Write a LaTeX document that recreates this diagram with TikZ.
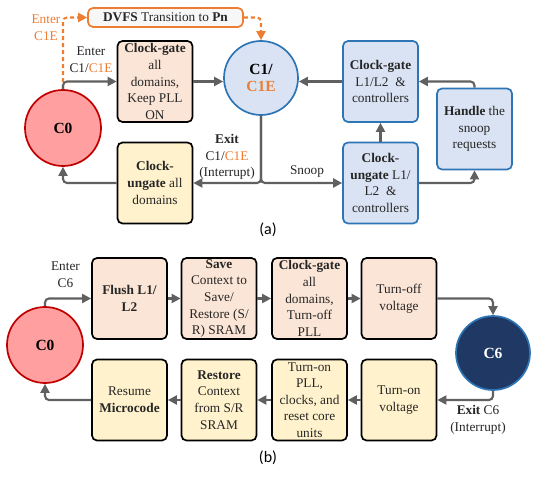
\documentclass[tikz,border=0pt]{standalone}
\usepackage{fontspec}
\setmainfont{Liberation Serif}
\newfontfamily\capfont{Carlito}
\usetikzlibrary{arrows.meta}
\definecolor{peach}{HTML}{FBE5D6}
\definecolor{cream}{HTML}{FFF2CC}
\definecolor{lblue}{HTML}{DAE3F3}
\definecolor{bblue}{HTML}{2E75B6}
\definecolor{oran}{HTML}{ED7D31}
\definecolor{arrgray}{HTML}{606060}
\definecolor{pinkred}{HTML}{FF9F9F}
\definecolor{dred}{HTML}{C00000}
\definecolor{navy}{HTML}{203864}
\definecolor{txt}{HTML}{262626}
\tikzset{
  box/.style={draw=black, line width=1.7pt, rounded corners=5pt, minimum width=75pt, minimum height=81pt, align=center, inner sep=1pt, font=\fontsize{13.3}{16.6}\selectfont, text=txt},
  pbox/.style={box, fill=peach},
  ybox/.style={box, fill=cream},
  bbox/.style={box, fill=lblue, draw=bblue},
  circ/.style={circle, line width=1.7pt, minimum size=75pt, inner sep=0pt, align=center, font=\fontsize{15.5}{17.5}\selectfont\bfseries},
  arr/.style={draw=arrgray, line width=2.1pt, rounded corners=4pt, -{Triangle[length=9pt,width=9pt]}},
  odash/.style={draw=oran, line width=2.1pt, dash pattern=on 4pt off 3pt, rounded corners=4pt, -{Triangle[length=9pt,width=9pt]}},
  lbl/.style={align=center, font=\fontsize{13.3}{16.6}\selectfont, text=txt, inner sep=0pt},
}
\begin{document}
\begin{tikzpicture}[x=1pt,y=-1pt]
\useasboundingbox (0,0) rectangle (538,478);
% ---------- (a) ----------
\node[circ, fill=pinkred, draw=dred, minimum size=76pt] (c0a) at (63,128) {C0};
\node[circ, fill=lblue, draw=bblue, minimum size=74pt] (c1) at (261,78) {C1/\\\textcolor{oran}{C1E}};
\node[pbox] (cg) at (155,81.5) {\textbf{Clock-gate}\\all\\domains,\\Keep PLL\\ON};
\node[ybox] (cua) at (155,183) {\textbf{Clock-}\\\textbf{ungate} all\\domains};
\node[bbox] (l12) at (380.5,81.5) {\textbf{Clock-gate}\\L1/L2 \ \&\\controllers};
\node[bbox] (hs) at (474.5,129) {\textbf{Handle} the\\snoop\\requests};
\node[bbox] (cul) at (380.5,183) {\textbf{Clock-}\\\textbf{ungate} L1/\\L2 \ \&\\controllers};
\node[draw=oran, line width=1.7pt, fill=black!3, rounded corners=5pt, minimum width=155pt, minimum height=19pt, inner sep=0pt, font=\fontsize{13.3}{15}\selectfont, text=txt] (dvfs) at (165.5,17.5) {\textbf{DVFS} Transition to \textbf{Pn}};

\draw[odash] (c0a.north) |- (dvfs.west);
\draw[odash] (dvfs.east) -| (c1.north);
\draw[arr] (c0a.north) |- (cg.west);
\draw[arr] (cg.east) -- (c1.west |- cg.east);
\draw[arr] (l12.west) -- (c1.east |- l12.west);
\draw[arr] (hs.north) |- (l12.east);
\draw[arr] (cul.north) -- (l12.south);
\draw[arr] (cul.east) -| (hs.south);
\draw[arr] (c1.south) |- (cua.east);
\draw[arr] (c1.south) |- (cul.west);
\draw[arr] (cua.west) -| (c0a.south);

\node[lbl, text=oran] (le1) at (46,28) {Enter\\C1E};
\node[lbl] (le2) at (91,60) {Enter\\C1/\textcolor{oran}{C1E}};
\node[lbl] (lex) at (227,157) {\textbf{Exit}\\C1/\textcolor{oran}{C1E}\\(Interrupt)};
\node[lbl] (lsn) at (307,172) {Snoop};
\node[font=\capfont\fontsize{16}{18}\selectfont, inner sep=0pt] (capa) at (268,230) {(a)};
% ---------- (b) ----------
\node[circ, fill=pinkred, draw=dred, minimum size=76pt] (c0b) at (45,345) {C0};
\node[circ, fill=navy, draw=bblue, text=white, minimum size=74pt] (c6) at (493,353) {C6};
\node[pbox] (fl) at (129.5,298.5) {\textbf{Flush L1/}\\\textbf{L2}};
\node[pbox] (sv) at (219,298.5) {\textbf{Save}\\Context to\\Save/\\Restore (S/\\R) SRAM};
\node[pbox] (cgb) at (309.5,298.5) {\textbf{Clock-gate}\\all\\domains,\\Turn-off\\PLL};
\node[pbox] (tov) at (399,298.5) {Turn-off\\voltage};
\node[ybox] (rs) at (129.5,400) {Resume\\\textbf{Microcode}};
\node[ybox] (rt) at (219,400) {\textbf{Restore}\\Context\\from S/R\\SRAM};
\node[ybox] (tpl) at (309.5,400) {Turn-on\\PLL,\\clocks, and\\reset core\\units};
\node[ybox] (tnv) at (399,400) {Turn-on\\voltage};

\draw[arr] (c0b.north) |- (fl.west);
\draw[arr] (fl.east) -- (sv.west);
\draw[arr] (sv.east) -- (cgb.west);
\draw[arr] (cgb.east) -- (tov.west);
\draw[arr] (tov.east) -| (c6.north);
\draw[arr] (c6.south) |- (tnv.east);
\draw[arr] (tnv.west) -- (tpl.east);
\draw[arr] (tpl.west) -- (rt.east);
\draw[arr] (rt.west) -- (rs.east);
\draw[arr] (rs.west) -| (c0b.south);

\node[lbl] (le6) at (65.5,275) {Enter\\C6};
\node[lbl] (lx6) at (478,420) {\textbf{Exit} C6\\(Interrupt)};
\node[font=\capfont\fontsize{16}{18}\selectfont, inner sep=0pt] (capb) at (268,458) {(b)};
\end{tikzpicture}
\end{document}
